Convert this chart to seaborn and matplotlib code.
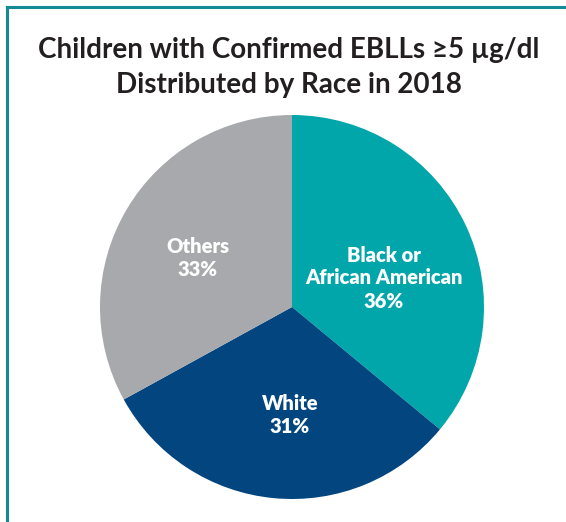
import matplotlib
matplotlib.use("Agg")
import matplotlib.pyplot as plt
import seaborn as sns
from matplotlib.lines import Line2D

categories = ["Black or\nAfrican American", "White", "Others"]
values = [36, 31, 33]
colors = ["#00A6AA", "#02457F", "#A7A9AC"]
title_lines = ["Children with Confirmed EBLLs \u22655 \u00b5g/dl", "Distributed by Race in 2018"]

sns.set_theme(style="white")
plt.rcParams['font.family'] = ['Lato', 'DejaVu Sans']

W, H = 566, 522
fig = plt.figure(figsize=(W / 100, H / 100), dpi=100)
ax = fig.add_axes([0, 0, 1, 1])

cx, cy, r = 292, H - 307, 192
wedges, _ = ax.pie(values, colors=colors, startangle=90, counterclock=False,
                   center=(cx, cy), radius=r, frame=True,
                   wedgeprops=dict(linewidth=0))
ax.set_xlim(0, W)
ax.set_ylim(0, H)
ax.set_aspect('equal')
ax.axis('off')

label_pos = [(384, 278), (290, 415), (198, 258)]
for cat, v, (x, y) in zip(categories, values, label_pos):
    ax.text(x, H - y, f"{cat}\n{v}%", ha='center', va='center', color='white',
            fontsize=14.5, fontweight='heavy', linespacing=1.25)

fig.text(289 / W, 1 - 50 / H, title_lines[0], ha='center', va='center',
         fontsize=20, fontweight='bold', color='#231F20')
fig.text(289 / W, 1 - 85 / H, title_lines[1], ha='center', va='center',
         fontsize=20, fontweight='bold', color='#231F20')

border = '#138B95'
fig.add_artist(Line2D([7 / W, 1], [1 - 7 / H, 1 - 7 / H], transform=fig.transFigure,
                      color=border, linewidth=2.2, solid_capstyle='projecting'))
fig.add_artist(Line2D([7 / W, 7 / W], [1 - 7 / H, 0], transform=fig.transFigure,
                      color=border, linewidth=2.2, solid_capstyle='projecting'))

fig.savefig("out.png", dpi=100, facecolor='white')
